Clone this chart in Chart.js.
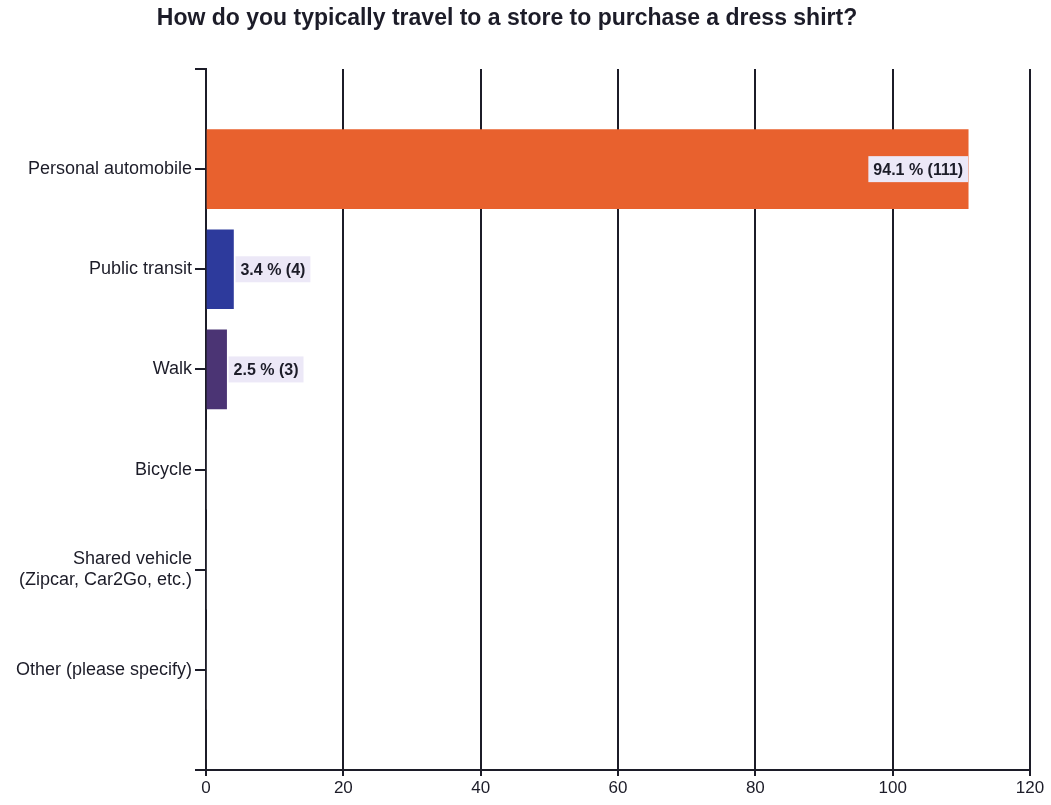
<!DOCTYPE html>
<html>
<head>
<meta charset="utf-8">
<script src="https://cdn.jsdelivr.net/npm/chart.js@4/dist/chart.umd.min.js"></script>
<style>
  html, body { margin: 0; padding: 0; background: #fff; }
  #wrap { width: 1051px; height: 805px; position: relative; }
</style>
</head>
<body>
<div id="wrap"><canvas id="travelChart"></canvas></div>
<script>
// survey answers, blank rows at both ends keep the 100px spacing of the axis
var categories = ['', 'Personal automobile', 'Public transit', 'Walk', 'Bicycle',
    ['Shared vehicle', '(Zipcar, Car2Go, etc.)'], 'Other (please specify)', ''];
var counts = [null, 111, 4, 3, 0, 0, 0, null];
var percents = [null, 94.1, 3.4, 2.5, 0, 0, 0, null];
var barColors = ['#E8612E', '#E8612E', '#2D3A9C', '#4B3474', '#888', '#888', '#888', '#888'];
var xTicks = [0, 20, 40, 60, 80, 100, 120];

var titleText = 'How do you typically travel to a store to purchase a dress shirt?';
var ink = '#1c1c28';

// title sits a bit left of the plot centre
var titlePlugin = {
    id: 'surveyTitle',
    afterDraw: function (chart) {
        var ctx = chart.ctx;
        ctx.save();
        ctx.font = 'bold 23px "Liberation Sans", Arial, sans-serif';
        ctx.fillStyle = ink;
        ctx.textAlign = 'center';
        ctx.textBaseline = 'middle';
        ctx.fillText(titleText, 507, 19);
        ctx.restore();
    }
};

// "94.1 % (111)" boxes: inside the long bar, after the short ones
var valueLabels = {
    id: 'valueLabels',
    afterDatasetsDraw: function (chart) {
        var ctx = chart.ctx;
        var meta = chart.getDatasetMeta(0);
        ctx.save();
        ctx.font = 'bold 16px "Liberation Sans", Arial, sans-serif';
        ctx.textBaseline = 'middle';
        meta.data.forEach(function (bar, i) {
            if (!counts[i]) return;
            var txt = percents[i].toFixed(1) + ' % (' + counts[i] + ')';
            var w = ctx.measureText(txt).width + 10;
            var h = 26;
            var x0 = counts[i] > 50 ? bar.x - w : bar.x + 2;
            ctx.fillStyle = '#ECE8F7';
            ctx.fillRect(x0, bar.y - h / 2, w, h);
            ctx.fillStyle = ink;
            ctx.textAlign = 'left';
            ctx.fillText(txt, x0 + 5, bar.y + 1);
        });
        ctx.restore();
    }
};

var ctx = document.getElementById('travelChart');
var chart = new Chart(ctx, {
    type: 'bar',
    data: {
        labels: categories,
        datasets: [{
            data: counts,
            backgroundColor: barColors,
            barThickness: 79,
            borderWidth: 0
        }]
    },
    options: {
        indexAxis: 'y',
        responsive: true,
        maintainAspectRatio: false,
        animation: false,
        layout: { padding: { top: 69, right: 21, bottom: 0, left: 0 } },
        plugins: {
            legend: { display: false },
            tooltip: { enabled: false },
            title: { display: false }
        },
        scales: {
            x: {
                type: 'linear',
                min: 0,
                max: 120,
                afterBuildTicks: function (scale) {
                    scale.ticks = xTicks.map(function (v) { return { value: v }; });
                },
                afterFit: function (scale) { scale.height = 35; },
                grid: { color: ink, lineWidth: 2, tickLength: 6 },
                border: { color: ink, width: 2 },
                ticks: {
                    color: ink,
                    padding: 2,
                    font: { family: '"Liberation Sans", Arial, sans-serif', size: 17 }
                }
            },
            y: {
                type: 'category',
                offset: false,
                afterFit: function (scale) { scale.width = 206; },
                grid: { offset: false, drawOnChartArea: false, color: ink, lineWidth: 2, tickLength: 11 },
                border: { color: ink, width: 2 },
                ticks: {
                    color: ink,
                    padding: 3,
                    autoSkip: false,
                    font: { family: '"Liberation Sans", Arial, sans-serif', size: 18, lineHeight: 1.15 }
                }
            }
        }
    },
    plugins: [titlePlugin, valueLabels]
});
</script>
</body>
</html>
